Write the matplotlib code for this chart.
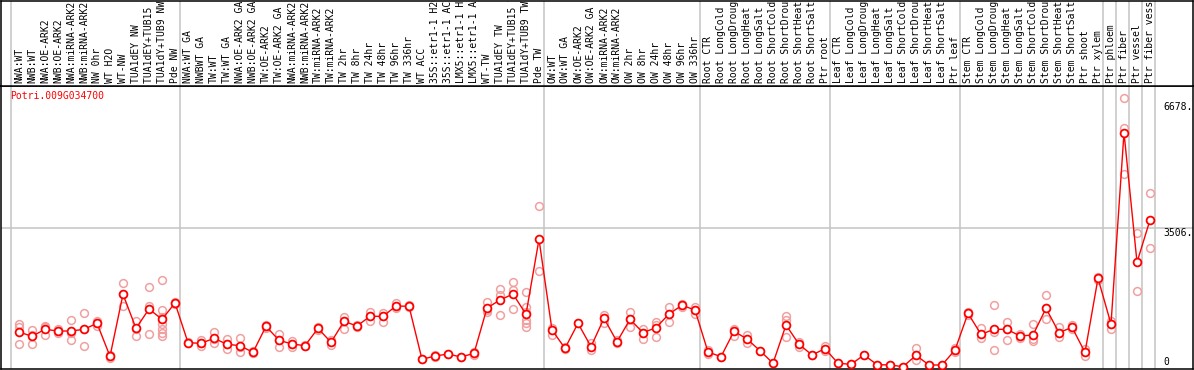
import matplotlib
matplotlib.use('Agg')
import matplotlib.pyplot as plt

# ---------------- data ----------------
title = "Potri.009G034700"

labels = [
    "NWA:WT", "NWB:WT", "NWA:OE-ARK2", "NWB:OE-ARK2", "NWA:miRNA-ARK2", "NWB:miRNA-ARK2",
    "NW 0hr", "WT H2O", "WT-NW", "TUA1dEY NW", "TUA1dEY+TUB15 NW", "TUA1dY+TUB9 NW", "Pde NW",
    "NWA:WT GA", "NWBWT GA", "TW:WT", "TW:WT GA", "NWA:OE-ARK2 GA", "NWB:OE-ARK2 GA",
    "TW:OE-ARK2", "TW:OE-ARK2 GA", "NWA:miRNA-ARK2", "NWB:miRNA-ARK2", "TW:miRNA-ARK2",
    "TW:miRNA-ARK2", "TW 2hr", "TW 8hr", "TW 24hr", "TW 48hr", "TW 96hr", "TW 336hr",
    "WT ACC", "35S::etr1-1 H2O", "35S::etr1-1 ACC", "LMX5::etr1-1 H2O", "LMX5::etr1-1 ACC",
    "WT-TW", "TUA1dEY TW", "TUA1dEY+TUB15 TW", "TUA1dY+TUB9 TW", "Pde TW",
    "OW:WT", "OW:WT GA", "OW:OE-ARK2", "OW:OE-ARK2 GA", "OW:miRNA-ARK2", "OW:miRNA-ARK2",
    "OW 2hr", "OW 8hr", "OW 24hr", "OW 48hr", "OW 96hr", "OW 336hr",
    "Root CTR", "Root LongCold", "Root LongDrought", "Root LongHeat", "Root LongSalt",
    "Root ShortCold", "Root ShortDrought", "Root ShortHeat", "Root ShortSalt", "Ptr root",
    "Leaf CTR", "Leaf LongCold", "Leaf LongDrought", "Leaf LongHeat", "Leaf LongSalt",
    "Leaf ShortCold", "Leaf ShortDrought", "Leaf ShortHeat", "Leaf ShortSalt", "Ptr leaf",
    "Stem CTR", "Stem LongCold", "Stem LongDrought", "Stem LongHeat", "Stem LongSalt",
    "Stem ShortCold", "Stem ShortDrought", "Stem ShortHeat", "Stem ShortSalt", "Ptr shoot",
    "Ptr xylem",
    "Ptr phloem", "Ptr fiber", "Ptr vessel", "Ptr fiber vessel",
]

group_starts = [0, 13, 41, 53, 63, 73, 84, 85, 86, 87, 88]

means = [
    881, 772, 949, 906, 906, 949, 1101, 266, 1835, 974, 1463, 1202, 1615,
    611, 594, 721, 570, 535, 366, 1025, 671, 577, 535, 974, 620, 1151, 1033, 1278,
    1278, 1539, 1532, 190, 273, 324, 248, 341, 1489, 1691, 1843, 1329, 3228,
    932, 468, 1101, 509, 1228, 635, 1202, 864, 990, 1337, 1557, 1438,
    375, 256, 899, 704, 408, 89, 1058, 570, 299, 459,
    89, 63, 299, 55, 46, 3, 291, 46, 46, 425,
    1354, 822, 949, 949, 780, 805, 1481, 864, 1000, 366, 2240,
    1083, 5927, 2646, 3716,
]

replicates = [
    [1076, 1008, 570], [932, 814, 570], [1033, 1000, 813], [950, 906, 862],
    [1185, 862, 671], [1362, 966, 519], [1159, 1101, 1033], [300, 232, 266],
    [2113, 1853, 1539], [1168, 966, 788], [2012, 1539, 822],
    [2197, 1438, 1250, 1083, 950, 850, 780], [1650, 1615, 1580],
    [640, 590], [678, 594, 535], [873, 700, 594], [696, 565, 451], [738, 490, 383],
    [400, 366, 340], [1060, 1025, 990], [822, 671, 501], [650, 577, 500], [560, 520],
    [1020, 930], [680, 560], [1269, 1151, 949], [1060, 1010], [1395, 1278, 1168],
    [1350, 1278, 1142], [1610, 1500], [1560, 1510], [190], [300, 250], [324], [248],
    [380, 300], [1640, 1430, 1395], [1970, 1818, 1304], [2147, 1944, 1463],
    [1894, 1506, 1395, 1185, 1101, 1015], [4071, 2425],
    [980, 805], [500, 440], [1101], [590, 430], [1311, 1228, 1116], [680, 590],
    [1395, 1202, 1015], [949, 864, 696], [1142, 1058, 762], [1506, 1337, 1127],
    [1600, 1510], [1522, 1438, 1337],
    [420, 330], [256], [960, 780], [800, 610], [408], [89], [1286, 1190, 762],
    [640, 500], [299], [520, 400],
    [89], [63], [299], [55], [46], [3], [468, 291, 172], [46], [46], [480, 370],
    [1400, 1300], [975, 720], [1565, 890, 425], [1142, 949, 678], [820, 740],
    [1075, 696, 644], [1818, 1481, 1210], [1000, 864, 762], [1050, 950], [460, 270],
    [2270, 2210],
    [1168, 1083, 949], [6797, 6038, 4873], [3380, 1919], [4392, 3000],
]

axis_ticks = [6678, 3506, 0]
axis_tick_text = ["6678.", "3506.", "0"]

# ---------------- layout ----------------
W, H = 1194, 370
X0, DX = 19.0, 13.0          # pixel of first sample, pixel step
Y0, SY = 366.8, 0.0395       # pixel of value 0, pixels per unit
PLOT_TOP, PLOT_BOT = 85.5, 368.5

def px2v(py):
    return (Y0 - py) / SY

def px2i(px):
    return (px - X0) / DX

RED = '#FF0000'
PINK = '#F0A0A0'
GRAY = '#C4C4C4'
FONT = 'DejaVu Sans Mono'
FS = 7

fig = plt.figure(figsize=(W / 100, H / 100), dpi=100)
ax = fig.add_axes([1 / W, (H - PLOT_BOT) / H, 1192 / W, (PLOT_BOT - PLOT_TOP) / H])
axl = fig.add_axes([1 / W, (H - PLOT_TOP) / H, 1192 / W, (PLOT_TOP - 0.5) / H])

xlim = (px2i(1), px2i(1193))
for a in (ax, axl):
    a.set_xlim(*xlim)
    a.set_xticks([])
    a.set_yticks([])
    for s in a.spines.values():
        s.set_color('black')
        s.set_linewidth(1.1)
ax.set_ylim(px2v(PLOT_BOT), px2v(PLOT_TOP))
axl.set_ylim(0, 1)

# group separators
for b in group_starts:
    xb = b - 8.0 / 13.0
    ax.axvline(xb, color=GRAY, lw=1.1, zorder=1)
    axl.axvline(xb, color=GRAY, lw=1.1, zorder=1)

# horizontal reference line
ax.axhline(axis_ticks[1], color=GRAY, lw=1.1, zorder=1)

# replicates
xs = list(range(len(means)))
for i, reps in enumerate(replicates):
    ax.plot([i] * len(reps), reps, linestyle='none', marker='o', ms=5.6,
            mfc='none', mec=PINK, mew=1.1, zorder=2)

# mean line + markers
ax.plot(xs, means, color=RED, lw=1.0, zorder=3)
ax.plot(xs, means, linestyle='none', marker='o', ms=5.6, mfc='white',
        mec=RED, mew=1.3, zorder=4)

# title
ax.text(px2i(10), px2v(99), title, color=RED, fontsize=FS, family=FONT,
        ha='left', va='baseline')

# right axis labels
base_px = [110, 235.7, 365]
for t, lab, bp in zip(axis_ticks, axis_tick_text, base_px):
    ax.text(px2i(1163), px2v(bp), lab, color='black', fontsize=FS, family=FONT,
            ha='left', va='baseline')

# sample labels
yfrac = (PLOT_TOP - 83.0) / (PLOT_TOP - 0.5)
for i, lab in enumerate(labels):
    axl.text(i, yfrac, lab, rotation=90, ha='center', va='bottom', fontsize=FS,
             family=FONT, color='black', clip_on=True)

fig.savefig('out.png', dpi=100)
